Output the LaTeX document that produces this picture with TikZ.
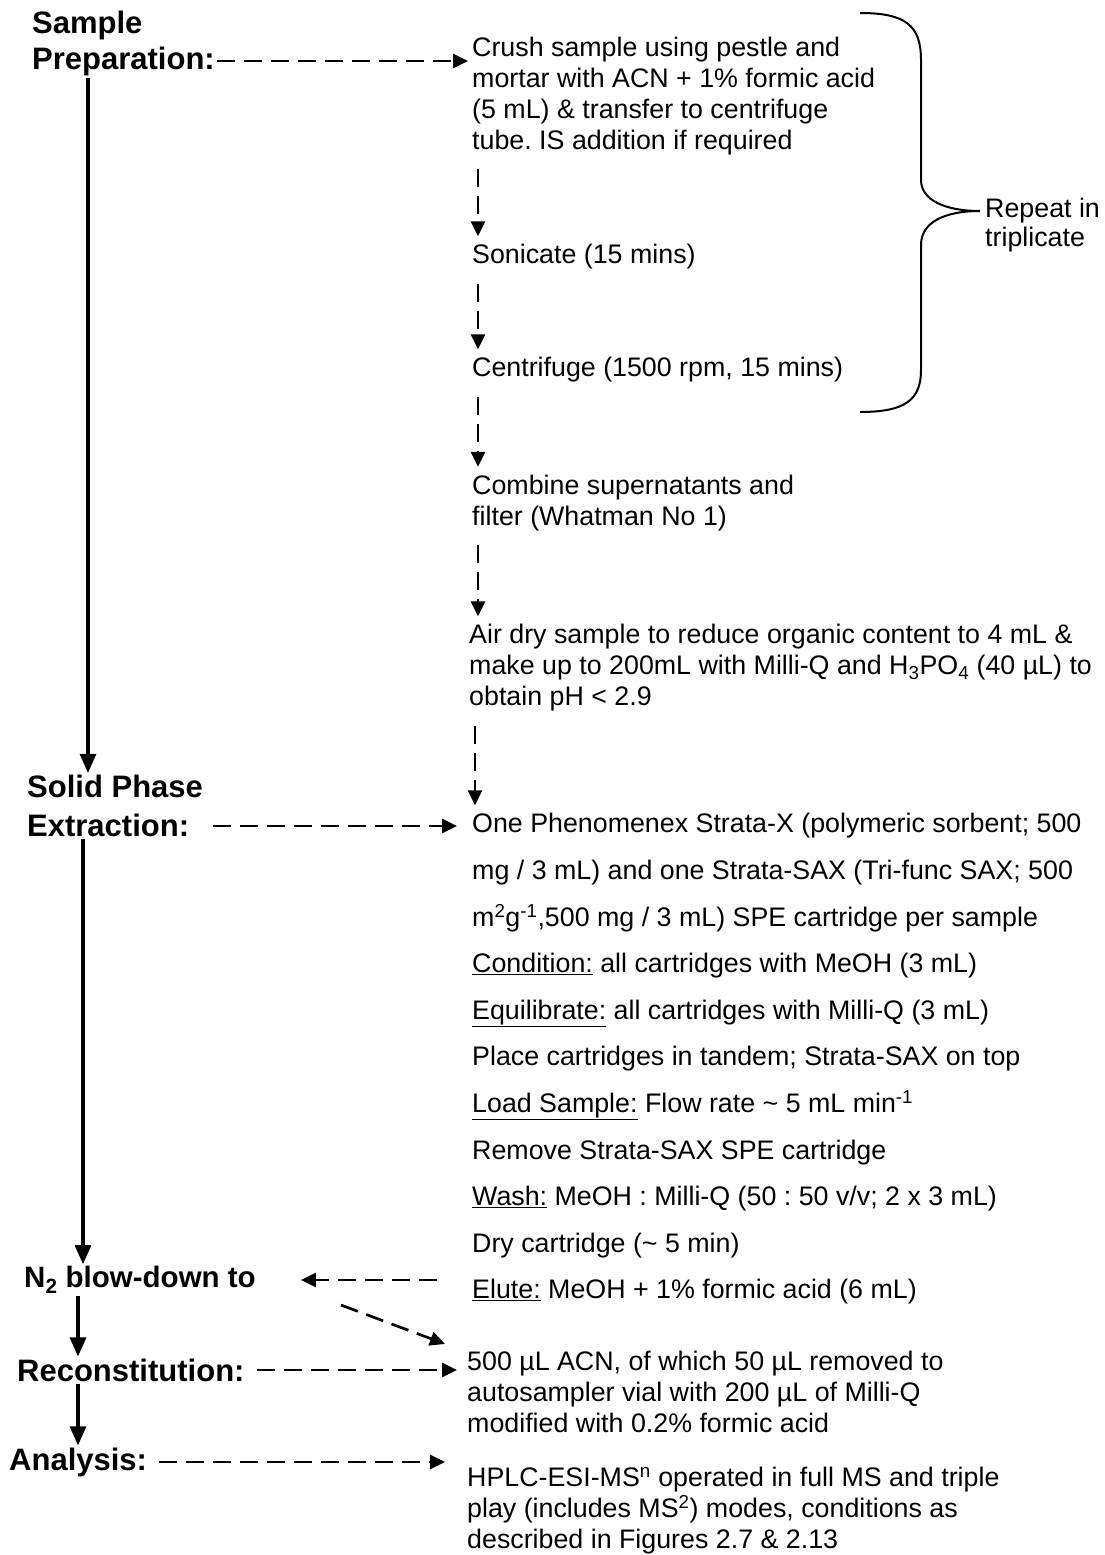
\documentclass[tikz,border=0pt]{standalone}
\usepackage{fontspec}
\setmainfont{Liberation Sans}
\usetikzlibrary{arrows.meta}
\frenchspacing

\begin{document}
\begin{tikzpicture}[x=1pt,y=-1pt,
    stage/.style = {anchor=west, align=left, inner sep=2pt,
                font=\fontsize{31}{36}\selectfont\bfseries},
    txt/.style = {anchor=west, align=left, inner sep=2pt,
                font=\fontsize{26.8}{31}\selectfont},
    dasharrow/.style = {line width=2.7pt, dash pattern=on 18pt off 9pt,
                -{Triangle[length=15pt,width=14pt]}},
    solarrow/.style = {line width=3.2pt, -{Triangle[length=19pt,width=16pt]}}
                    ]
        \useasboundingbox (0,0) rectangle (1105,1555);
        % stages on the left
        \node[stage] (prep) at (30,43) {Sample\\Preparation:};
        \node[stage, font=\fontsize{31}{39}\selectfont\bfseries] (spe) at (25,806) {Solid Phase\\Extraction:};
        \node[stage, font=\fontsize{29.5}{36}\selectfont\bfseries] (blow) at (22,1280) {N\textsubscript{2} blow-down to};
        \node[stage] (recon) at (15,1370) {Reconstitution:};
        \node[stage] (anal) at (7,1462) {Analysis:};
        % steps on the right
        \node[txt] (crush) at (470,96) {Crush sample using pestle and\\mortar with ACN + 1\% formic acid\\(5 mL) \& transfer to centrifuge\\tube. IS addition if required};
        \node[txt] (sonic) at (470,257) {Sonicate (15 mins)};
        \node[txt] (centri) at (470,370) {Centrifuge (1500 rpm, 15 mins)};
        \node[txt] (comb) at (470,503) {Combine supernatants and\\filter (Whatman No 1)};
        \node[txt] (airdry) at (467,668) {Air dry sample to reduce organic content to 4 mL \&\\make up to 200mL with Milli-Q and H\textsubscript{3}PO\textsubscript{4} (40 µL) to\\obtain pH < 2.9};
        \node[txt, font=\fontsize{26.8}{46.6}\selectfont] (cart) at (470,1059) {One Phenomenex Strata-X (polymeric sorbent; 500\\
            mg / 3 mL) and one Strata-SAX (Tri-func SAX; 500\\
            m\textsuperscript{2}g\textsuperscript{-1},500 mg / 3 mL) SPE cartridge per sample\\
            \underline{Condition:} all cartridges with MeOH (3 mL)\\
            \underline{Equilibrate:} all cartridges with Milli-Q (3 mL)\\
            Place cartridges in tandem; Strata-SAX on top\\
            \underline{Load Sample:} Flow rate \textasciitilde{} 5 mL min\textsuperscript{-1}\\
            Remove Strata-SAX SPE cartridge\\
            \underline{Wash:} MeOH : Milli-Q (50 : 50 v/v; 2 x 3 mL)\\
            Dry cartridge (\textasciitilde{} 5 min)\\
            \underline{Elute:} MeOH + 1\% formic acid (6 mL)};
        \node[txt] (vial) at (465,1392) {500 µL ACN, of which 50 µL removed to\\autosampler vial with 200 µL of Milli-Q\\modified with 0.2\% formic acid};
        \node[txt] (hplc) at (465,1511) {HPLC-ESI-MS\textsuperscript{n} operated in full MS and triple\\play (includes MS\textsuperscript{2}) modes, conditions as\\described in Figures 2.7 \& 2.13};
        % main flow
        \draw[solarrow] ([xshift=58pt]prep.south west) -- ([xshift=58pt]prep.south west |- spe.north);
        \draw[solarrow] ([xshift=58pt]spe.south west) -- ([xshift=58pt]spe.south west |- blow.north);
        \draw[solarrow] ([xshift=56pt]blow.south west) -- ([xshift=56pt]blow.south west |- recon.north);
        \draw[solarrow] ([xshift=63pt]recon.south west) -- ([xshift=63pt]recon.south west |- anal.north);
        % stage to step
        \draw[dasharrow, shorten >=2pt] ([yshift=-18pt]prep.east) -- ([yshift=-18pt]prep.east -| crush.west);
        \draw[dasharrow, shorten <=8pt, shorten >=13pt] ([yshift=-20pt]spe.east) -- ([yshift=-20pt]spe.east -| cart.west);
        \draw[dasharrow, shorten <=10pt, shorten >=8pt] (recon.east) -- (recon.east -| vial.west);
        \draw[dasharrow, shorten <=10pt, shorten >=20pt] (anal.east) -- (anal.east -| hplc.west);
        \draw[dasharrow] ([xshift=-33pt]cart.west |- blow.east) -- ([xshift=43pt]blow.east);
        \draw[dasharrow] ([xshift=83pt,yshift=-25pt]blow.east) -- ([xshift=-20pt,yshift=5pt]vial.north west);
        % steps in the sample preparation
        \foreach \a/\b in {crush/sonic, sonic/centri, centri/comb, comb/airdry, airdry/cart}
            \draw[dasharrow, shorten <=12pt, shorten >=6pt] ([xshift=8pt]\a.south west) -- ([xshift=8pt]\a.south west |- \b.north);
        % repeat brace
        \coordinate (tip) at (980,211);
        \draw[line width=2pt] (860,13) .. controls (905,13) and (921,25) .. (921,60) -- (921,180)
            .. controls (921,200) and (945,211) .. (tip) .. controls (945,211) and (921,222) .. (921,245)
            -- (921,370) .. controls (921,400) and (905,412) .. (860,412);
        \node[txt, font=\fontsize{26.8}{29}\selectfont] (rep) at ([xshift=3pt,yshift=-14pt]tip) {Repeat in\\triplicate};
    \end{tikzpicture}
\end{document}
